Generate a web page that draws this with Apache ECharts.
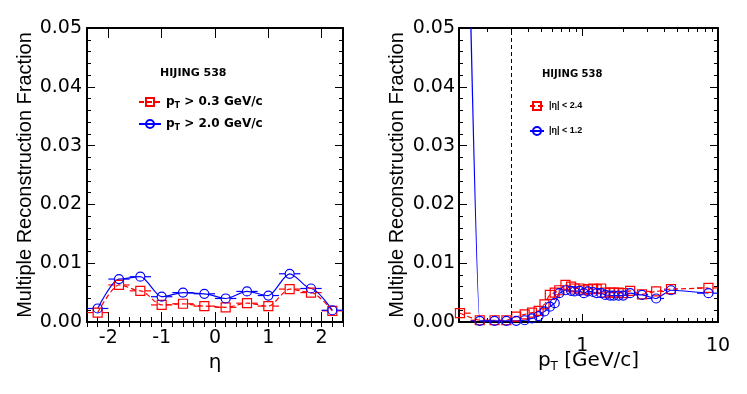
<!DOCTYPE html>
<html>
<head>
<meta charset="utf-8">
<script src="https://cdn.jsdelivr.net/npm/echarts@6.0.0/dist/echarts.min.js"></script>
<style>
  html, body { margin: 0; padding: 0; background: #fff; }
  #main { width: 747px; height: 394px; }
</style>
</head>
<body>
<div id="main"></div>
<script>
// left panel: fraction vs eta (bins of 0.4)
const etaCenters = [-2.2, -1.8, -1.4, -1.0, -0.6, -0.2, 0.2, 0.6, 1.0, 1.4, 1.8, 2.2]
const etaHalfWidth = [0.2, 0.2, 0.2, 0.2, 0.2, 0.2, 0.2, 0.2, 0.2, 0.2, 0.2, 0.2]
const fracPt03 = [0.0016, 0.0063, 0.0053, 0.0029, 0.0031, 0.0027, 0.0025, 0.0032, 0.0027, 0.0056, 0.0050, 0.0019]
const fracPt20 = [0.0023, 0.0073, 0.0077, 0.0043, 0.0050, 0.0048, 0.0040, 0.0052, 0.0045, 0.0082, 0.0057, 0.0020]
const etaTicks = [-2, -1, 0, 1, 2]

// right panel: fraction vs pT (log x)
const ptCenters = [0.125, 0.175, 0.225, 0.275, 0.325, 0.375, 0.425, 0.475, 0.525, 0.575, 0.625, 0.675,
  0.75, 0.825, 0.875, 0.95, 1.025, 1.1, 1.2, 1.275, 1.375, 1.475, 1.6, 1.7, 1.85, 2.0, 2.25, 2.75, 3.5, 4.5, 8.5]
const ptHalfWidth = [0.025, 0.025, 0.025, 0.025, 0.025, 0.025, 0.025, 0.025, 0.025, 0.025, 0.025, 0.025,
  0.04, 0.03, 0.03, 0.04, 0.04, 0.05, 0.05, 0.05, 0.05, 0.05, 0.06, 0.06, 0.08, 0.08, 0.2, 0.3, 0.5, 0.5, 1.5]
const fracEta24 = [0.0015, 0.0003, 0.0003, 0.0003, 0.0009, 0.0013, 0.0016, 0.0019, 0.0030, 0.0046, 0.0050, 0.0054,
  0.0063, 0.0060, 0.0057, 0.0057, 0.0054, 0.0056, 0.0057, 0.0056, 0.0057, 0.0050, 0.0050, 0.0050, 0.0050, 0.0049,
  0.0053, 0.0047, 0.0052, 0.0056, 0.0058]
const fracEta12 = [0.14, 0.0002, 0.0002, 0.0002, 0.0002, 0.0003, 0.0006, 0.0010, 0.0018, 0.0026, 0.0032, 0.0049,
  0.0054, 0.0053, 0.0052, 0.0053, 0.0049, 0.0052, 0.0051, 0.0049, 0.0049, 0.0046, 0.0045, 0.0045, 0.0045, 0.0045,
  0.0049, 0.0046, 0.0040, 0.0054, 0.0049]
const ptCut = 0.3
const ptMin = 0.123
const ptMax = 10
const ptLabels = [1, 10]
const ptMinorTicks = [0.2, 0.3, 0.4, 0.5, 0.6, 0.7, 0.8, 0.9, 2, 3, 4, 5, 6, 7, 8, 9]

// the picture is a bit wide: horizontal text looks stretched, so use the wider DejaVu there
const FONT = '"Liberation Sans", Arial, Helvetica, sans-serif'
const WIDE = '"DejaVu Sans", Verdana, sans-serif'
const RED = '#ff0000'
const BLUE = '#0000ff'
const BLACK = '#000'

const chart = echarts.init(document.getElementById('main'), null, { renderer: 'canvas' })

// frame axis (ticks inside, like ROOT)
function frameX(grid, position, extra) {
  return Object.assign({
    gridIndex: grid,
    type: 'value',
    position: position,
    axisLine: { show: true, onZero: false, lineStyle: { color: BLACK, width: 2 } },
    axisTick: { show: true, inside: true, length: 10, lineStyle: { color: BLACK, width: 1 } },
    axisLabel: { show: false },
    splitLine: { show: false }
  }, extra)
}

function frameY(grid, position, extra) {
  return Object.assign({
    gridIndex: grid,
    type: 'value',
    position: position,
    min: 0,
    max: 0.05,
    interval: 0.01,
    axisLine: { show: true, onZero: false, lineStyle: { color: BLACK, width: 2 } },
    axisTick: { show: true, inside: true, length: 8, lineStyle: { color: BLACK, width: 1 } },
    minorTick: { show: true, splitNumber: 5, length: 4, lineStyle: { color: BLACK, width: 1 } },
    axisLabel: { show: false },
    splitLine: { show: false },
    minorSplitLine: { show: false }
  }, extra)
}

const yLabel = {
  show: true, margin: 5, fontSize: 19, color: BLACK, fontFamily: WIDE,
  formatter: v => v.toFixed(2)
}
const yName = {
  name: 'Multiple Reconstruction Fraction',
  nameLocation: 'middle',
  nameGap: 52,
  nameTextStyle: { fontSize: 20, color: BLACK, fontFamily: FONT }
}

const lgMin = Math.log10(ptMin)
const lgMax = Math.log10(ptMax)
const ptLabelsLog = ptLabels.map(v => Math.log10(v))
const ptMinorLog = ptMinorTicks.map(v => Math.log10(v))

const xAxes = [
  // 0: left bottom, main
  frameX(0, 'bottom', {
    min: -2.4, max: 2.4,
    axisTick: { show: true, inside: true, length: 10, customValues: etaTicks, lineStyle: { color: BLACK, width: 1 } },
    axisLabel: { show: true, customValues: etaTicks, margin: 7, fontSize: 19, color: BLACK, fontFamily: WIDE },
    name: 'η', nameLocation: 'middle', nameGap: 31, nameMoveOverlap: false,
    nameTextStyle: { fontSize: 20, color: BLACK, fontFamily: WIDE }
  }),
  // 1: left bottom, minor
  frameX(0, 'bottom', {
    min: -2.4, max: 2.4, interval: 0.2,
    axisLine: { show: false },
    axisTick: { show: true, inside: true, length: 5, lineStyle: { color: BLACK, width: 1 } }
  }),
  // 2: left top
  frameX(0, 'top', {
    min: -2.4, max: 2.4,
    axisTick: { show: true, inside: true, length: 10, customValues: etaTicks, lineStyle: { color: BLACK, width: 1 } }
  }),
  // 3: left top minor
  frameX(0, 'top', {
    min: -2.4, max: 2.4, interval: 0.2,
    axisLine: { show: false },
    axisTick: { show: true, inside: true, length: 5, lineStyle: { color: BLACK, width: 1 } }
  }),
  // 4: right data axis (log)
  {
    gridIndex: 1, type: 'log', position: 'bottom', min: ptMin, max: ptMax,
    axisLine: { show: false }, axisTick: { show: false }, axisLabel: { show: false },
    splitLine: { show: false }, minorSplitLine: { show: false }
  },
  // 5: right bottom major ticks + labels (log10 space, decoration only)
  frameX(1, 'bottom', {
    min: lgMin, max: lgMax,
    axisTick: { show: true, inside: true, length: 8, customValues: ptLabelsLog, lineStyle: { color: BLACK, width: 1 } },
    axisLabel: {
      show: true, customValues: ptLabelsLog, margin: 15, fontSize: 19, color: BLACK, fontFamily: WIDE,
      formatter: v => String(Math.round(Math.pow(10, v)))
    },
    name: '{n|p}{s|T}{n| [GeV/c]}', nameLocation: 'middle', nameGap: 27, nameMoveOverlap: false,
    nameTextStyle: {
      fontSize: 20, color: BLACK, fontFamily: WIDE,
      rich: {
        n: { fontSize: 20, color: BLACK, fontFamily: WIDE },
        s: { fontSize: 12, color: BLACK, fontFamily: WIDE, padding: [12, 0, 0, 0] }
      }
    }
  }),
  // 6: right bottom minor
  frameX(1, 'bottom', {
    min: lgMin, max: lgMax,
    axisLine: { show: false },
    axisTick: { show: true, inside: true, length: 4, customValues: ptMinorLog, lineStyle: { color: BLACK, width: 1 } }
  }),
  // 7: right top major
  frameX(1, 'top', {
    min: lgMin, max: lgMax,
    axisTick: { show: true, inside: true, length: 8, customValues: ptLabelsLog, lineStyle: { color: BLACK, width: 1 } }
  }),
  // 8: right top minor
  frameX(1, 'top', {
    min: lgMin, max: lgMax,
    axisLine: { show: false },
    axisTick: { show: true, inside: true, length: 4, customValues: ptMinorLog, lineStyle: { color: BLACK, width: 1 } }
  })
]

const yAxes = [
  frameY(0, 'left', Object.assign({ axisLabel: yLabel }, yName)),
  frameY(0, 'right', {}),
  frameY(1, 'left', Object.assign({ axisLabel: Object.assign({}, yLabel, { margin: 4 }) }, yName)),
  frameY(1, 'right', {})
]

function pairs(xs, ys) {
  return xs.map((x, i) => [x, ys[i]])
}

function lineSeries(name, xi, yi, xs, ys, color, symbol, dashed, smooth) {
  return {
    name: name,
    type: 'line',
    xAxisIndex: xi,
    yAxisIndex: yi,
    data: pairs(xs, ys),
    symbol: symbol,
    symbolSize: 9,
    smooth: smooth,
    smoothMonotone: 'x',
    clip: true,
    itemStyle: { color: 'rgba(255,255,255,0)', borderColor: color, borderWidth: 1.2 },
    lineStyle: { color: color, width: 1.2, type: dashed ? [5, 3] : 'solid' },
    emphasis: { disabled: true },
    z: 3
  }
}

// horizontal error bars (bin widths), with a gap around the marker
function errSeries(xi, yi, xs, ys, hw, color) {
  return {
    type: 'custom',
    xAxisIndex: xi,
    yAxisIndex: yi,
    clip: true,
    silent: true,
    encode: { x: 0, y: 1 },
    data: xs.map((x, i) => [x, ys[i], x - hw[i], x + hw[i]]),
    renderItem: function(params, api) {
      const y = api.value(1)
      const c = api.coord([api.value(0), y])
      const a = api.coord([api.value(2), y])
      const b = api.coord([api.value(3), y])
      const gap = 4.5
      const st = { stroke: color, lineWidth: 1.2 }
      const children = []
      if (c[0] - gap > a[0]) children.push({ type: 'line', shape: { x1: a[0], y1: c[1], x2: c[0] - gap, y2: c[1] }, style: st })
      if (b[0] > c[0] + gap) children.push({ type: 'line', shape: { x1: c[0] + gap, y1: c[1], x2: b[0], y2: c[1] }, style: st })
      return { type: 'group', children: children }
    },
    z: 2
  }
}

const redRight = lineSeries('|η| < 2.4', 4, 2, ptCenters, fracEta24, RED, 'rect', true, 0.2)
redRight.markLine = {
  silent: true,
  symbol: 'none',
  label: { show: false },
  lineStyle: { color: BLACK, width: 1, type: [4, 3] },
  data: [{ xAxis: ptCut }]
}

const legendRich = {
  p: { fontSize: 12, fontWeight: 'bold', color: BLACK, fontFamily: WIDE },
  s: { fontSize: 8, fontWeight: 'bold', color: BLACK, fontFamily: WIDE, padding: [8, 0, 0, 0] }
}
const legendText = {
  'pT > 0.3 GeV/c': '{p|p}{s|T}{p| > 0.3 GeV/c}',
  'pT > 2.0 GeV/c': '{p|p}{s|T}{p| > 2.0 GeV/c}'
}

const option = {
  animation: false,
  backgroundColor: '#fff',
  grid: [
    { left: 87, top: 28, width: 256, height: 294 },
    { left: 459, top: 28, width: 259, height: 294 }
  ],
  xAxis: xAxes,
  yAxis: yAxes,
  legend: [
    {
      data: ['pT > 0.3 GeV/c', 'pT > 2.0 GeV/c'],
      orient: 'vertical', left: 133, top: 91,
      itemWidth: 22, itemHeight: 10, itemGap: 8,
      selectedMode: false,
      formatter: name => legendText[name],
      textStyle: { fontSize: 12, fontWeight: 'bold', color: BLACK, fontFamily: WIDE, rich: legendRich }
    },
    {
      data: ['|η| < 2.4', '|η| < 1.2'],
      orient: 'vertical', left: 524, top: 96,
      itemWidth: 14, itemHeight: 10, itemGap: 15,
      selectedMode: false,
      textStyle: { fontSize: 9, fontWeight: 'bold', color: BLACK, fontFamily: FONT }
    }
  ],
  graphic: [
    { type: 'text', left: 160, top: 68, style: { text: 'HIJING 538', font: 'bold 11px ' + WIDE, fill: BLACK } },
    { type: 'text', left: 542, top: 69, style: { text: 'HIJING 538', font: 'bold 10px ' + WIDE, fill: BLACK } }
  ],
  series: [
    errSeries(0, 0, etaCenters, fracPt03, etaHalfWidth, RED),
    errSeries(0, 0, etaCenters, fracPt20, etaHalfWidth, BLUE),
    lineSeries('pT > 0.3 GeV/c', 0, 0, etaCenters, fracPt03, RED, 'rect', true, 0.3),
    lineSeries('pT > 2.0 GeV/c', 0, 0, etaCenters, fracPt20, BLUE, 'circle', false, 0.3),
    errSeries(4, 2, ptCenters, fracEta24, ptHalfWidth, RED),
    errSeries(4, 2, ptCenters, fracEta12, ptHalfWidth, BLUE),
    redRight,
    lineSeries('|η| < 1.2', 4, 2, ptCenters, fracEta12, BLUE, 'circle', false, 0.2)
  ]
}

chart.setOption(option)
</script>
</body>
</html>
